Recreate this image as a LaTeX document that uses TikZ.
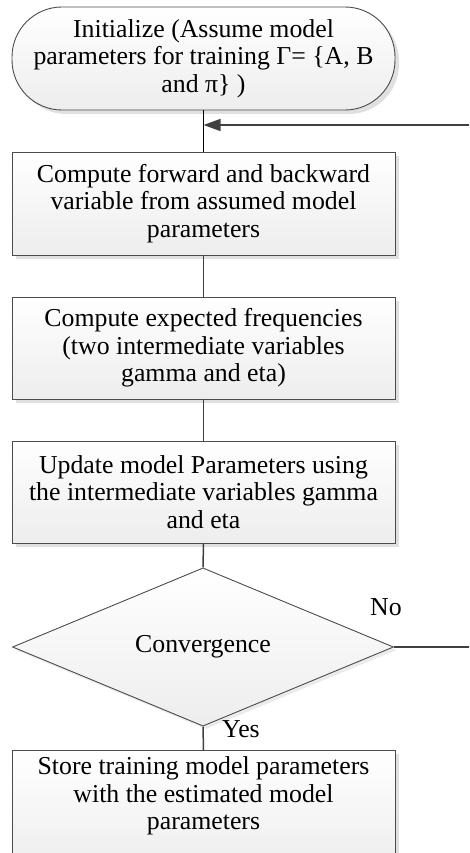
\documentclass[tikz,border=0pt]{standalone}
\usepackage{fontspec}
\setmainfont{Liberation Serif}
\usetikzlibrary{shapes.geometric,shadows,arrows.meta}

\tikzset{
  flowshadow/.style={drop shadow={shadow xshift=4pt,shadow yshift=-4pt,fill=black!12,opacity=1}},
  flowfill/.style={top color=white,bottom color=black!7,draw=black!70,line width=0.9pt},
  flowtext/.style={font=\fontsize{25.8}{27.5}\selectfont,align=center,text=black},
  stepbox/.style={rectangle,flowfill,flowshadow,flowtext,minimum width=383pt,inner sep=0pt},
  terminal/.style={rectangle,rounded corners=50pt,flowfill,flowshadow,flowtext,
    minimum width=383pt,minimum height=103pt,inner sep=0pt},
  decision/.style={diamond,flowfill,drop shadow={shadow xshift=3pt,shadow yshift=-3pt,fill=black!8,opacity=1},
    flowtext,minimum width=381pt,minimum height=123pt,inner sep=0pt},
  link/.style={draw=black!75,line width=1.5pt},
  tag/.style={font=\fontsize{25.8}{27.5}\selectfont,text=black},
}

\begin{document}
\begin{tikzpicture}[x=1pt,y=-1pt]
  \useasboundingbox (0,0) rectangle (469,853);
  \clip (0,0) rectangle (469,853);

  % flowchart nodes
  \node[terminal] (init) at (203.5,58.5)
    {Initialize (Assume model\\parameters for training Γ= \{A, B\\and π\} )};
  \node[stepbox,minimum height=103pt] (fb) at (203.5,203.5)
    {Compute forward and backward\\variable from assumed model\\parameters};
  \node[stepbox,minimum height=102pt] (freq) at (203.5,348)
    {Compute expected frequencies\\(two intermediate variables\\gamma and eta)};
  \node[stepbox,minimum height=102pt] (upd) at (203.5,492)
    {Update model Parameters using\\the intermediate variables gamma\\and eta};
  \node[decision] (conv) at (203,647) {Convergence};
  \node[stepbox,minimum height=120pt,anchor=north] (store) at (203.5,750) {};
  \node[flowtext] (storetxt) at (203.5,796)
    {Store training model parameters\\with the estimated model\\parameters};

  % loop-back path
  \coordinate (join) at (init.south |- 0,125);
  \coordinate (east1) at (480,647);
  \coordinate (east2) at (480,125);

  % connectors
  \draw[draw=black,line width=1.6pt] (init.south) -- (fb.north);
  \draw[link] (fb.south) -- (freq.north);
  \draw[link] (freq.south) -- (upd.north);
  \draw[link] (upd.south) -- (conv.north);
  \draw[link] (conv.south) -- (store.north);
  \draw[link,-{Triangle[length=17pt,width=12pt]}] (conv.east) -- (east1) -- (east2) -- (join);

  % branch labels
  \node[tag] (no) at (386,607) {No};
  \node[tag] (yes) at (241,729) {Yes};
\end{tikzpicture}
\end{document}
